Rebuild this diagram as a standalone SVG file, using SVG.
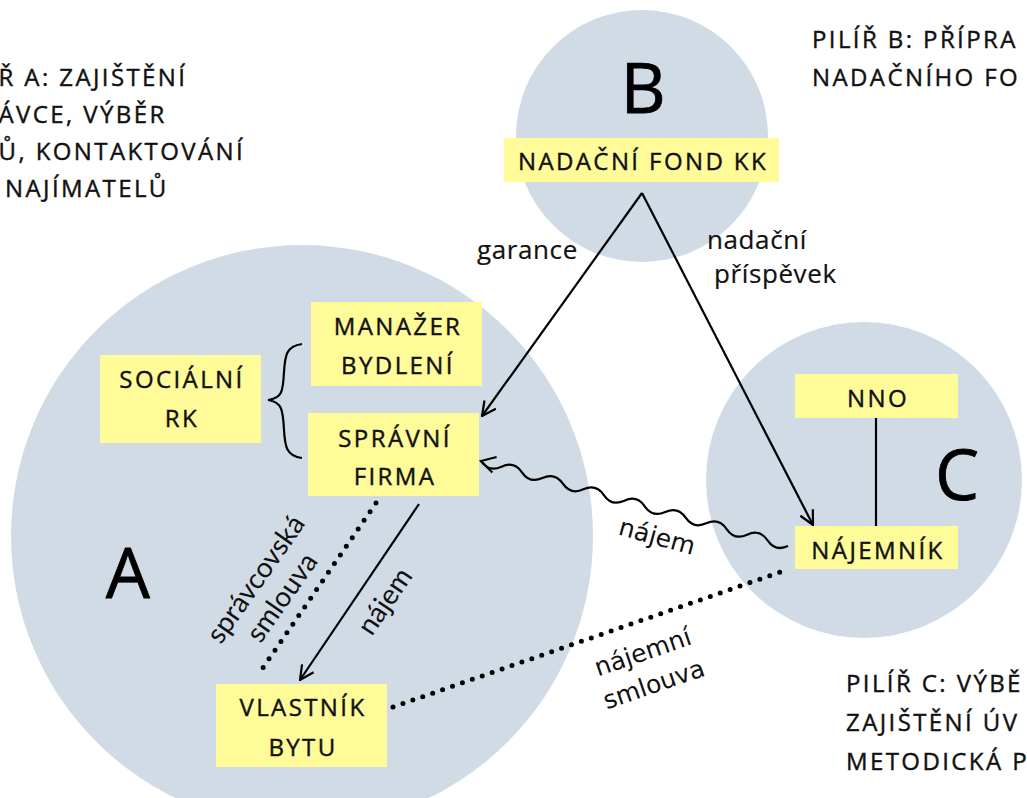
<svg xmlns="http://www.w3.org/2000/svg" width="1027" height="798" viewBox="0 0 1027 798">
<style>
.circ{fill:#D1DBE6}
.box{fill:#FFFB99}
.cap{font-family:"Open Sans","Liberation Sans",sans-serif;font-size:24px;letter-spacing:2.4px;fill:#111;stroke:#111;stroke-width:0.4px}
.mid{text-anchor:middle}
.big{font-family:"Open Sans","Liberation Sans",sans-serif;font-size:70px;fill:#000;stroke:#000;stroke-width:0.8px;text-anchor:middle}
.lbl{font-family:"Open Sans","Liberation Sans",sans-serif;font-size:26px;fill:#111;letter-spacing:0.6px;stroke:#111;stroke-width:0.2px}
.lato{font-family:Lato,"Open Sans",sans-serif;font-size:28px;fill:#111;text-anchor:middle}
.dj{font-family:"DejaVu Sans",sans-serif;font-size:25px;fill:#111;text-anchor:middle}
.ln{fill:none;stroke:#000;stroke-width:2.2}
.dot{fill:none;stroke:#000;stroke-width:5;stroke-linecap:round;stroke-dasharray:0 10.5}
</style>
<defs>
<marker id="arr" viewBox="0 0 16 16" refX="15" refY="8" markerWidth="16" markerHeight="16" markerUnits="userSpaceOnUse" orient="auto">
<path d="M1,1 L15,8 L1,15" fill="none" stroke="#000" stroke-width="2.2"/>
</marker>
</defs>
<rect width="1027" height="798" fill="#fff"/>

<g id="pillars">
<circle id="circleA" class="circ" cx="302" cy="536" r="291"/>
<circle id="circleB" class="circ" cx="642" cy="136" r="126"/>
<circle id="circleC" class="circ" cx="864" cy="480" r="158"/>
<text class="big" x="128" y="598">A</text>
<text class="big" x="643" y="113">B</text>
<text class="big" x="957" y="500">C</text>
</g>

<g id="pillar-texts" class="cap">
<text x="-1.5" y="86">Ř A: ZAJIŠTĚNÍ</text>
<text x="-1.5" y="123">ÁVCE, VÝBĚR</text>
<text x="-1.5" y="160">Ů, KONTAKTOVÁNÍ</text>
<text x="5" y="197">NAJÍMATELŮ</text>
<text x="812" y="48">PILÍŘ B: PŘÍPRA</text>
<text x="812" y="86">NADAČNÍHO FO</text>
<text x="846" y="692">PILÍŘ C: VÝBĚ</text>
<text x="846" y="731">ZAJIŠTĚNÍ ÚV</text>
<text x="846" y="770">METODICKÁ P</text>
</g>

<g id="connectors">
<line class="ln" x1="642" y1="193" x2="482" y2="416" marker-end="url(#arr)"/>
<line class="ln" x1="642" y1="193" x2="813" y2="525" marker-end="url(#arr)"/>
<line class="ln" x1="419" y1="504" x2="300" y2="680" marker-end="url(#arr)"/>
<line class="ln" x1="876" y1="418" x2="876" y2="526"/>
<g transform="translate(481,461) rotate(15.48)">
<path class="ln" d="M0,0 Q10.62,9 21.24,0 T42.48,0 T63.72,0 T84.96,0 T106.2,0 T127.44,0 T148.68,0 T169.92,0 T191.16,0 T212.4,0 T233.64,0 T254.88,0 T276.12,0 T297.36,0 T318.6,0"/>
<path class="ln" d="M14,-8 L0,0 L14,8"/>
</g>
<line class="dot" x1="376" y1="503" x2="258" y2="675"/>
<line class="dot" x1="393" y1="707" x2="789" y2="569"/>
<path class="ln" d="M302,344 C286,346 285,356 284,372 C283,392 282,398 268,400 C282,402 283,410 284,430 C285,446 286,456 302,458"/>
</g>

<g id="labels">
<text class="lbl" x="477" y="259">garance</text>
<text class="lbl" x="707" y="249">nadační</text>
<text class="lbl" x="714" y="283">příspěvek</text>
<text class="dj" transform="translate(657,537) rotate(15.5)" y="8">nájem</text>
<text class="lato" transform="translate(386,602) rotate(-55.7)" y="8">nájem</text>
<g transform="translate(270,589) rotate(-55)">
<text class="lato" y="-8">správcovská</text>
<text class="lato" y="24">smlouva</text>
</g>
<g transform="translate(648.5,668.7) rotate(-19)">
<text class="dj" y="-9">nájemní</text>
<text class="dj" y="25">smlouva</text>
</g>
</g>

<g id="node-nadacni-fond">
<rect class="box" x="504" y="138" width="275" height="44"/>
<text class="cap mid" x="643" y="170">NADAČNÍ FOND KK</text>
</g>
<g id="node-socialni-rk">
<rect class="box" x="100" y="355" width="161" height="88"/>
<text class="cap mid" x="182" y="388">SOCIÁLNÍ</text>
<text class="cap mid" x="182" y="427">RK</text>
</g>
<g id="node-manazer">
<rect class="box" x="311" y="302" width="171" height="84"/>
<text class="cap mid" x="398" y="335">MANAŽER</text>
<text class="cap mid" x="398" y="374">BYDLENÍ</text>
</g>
<g id="node-spravni-firma">
<rect class="box" x="308" y="413" width="171" height="83"/>
<text class="cap mid" x="395" y="447">SPRÁVNÍ</text>
<text class="cap mid" x="395" y="485">FIRMA</text>
</g>
<g id="node-vlastnik">
<rect class="box" x="216" y="684" width="171" height="83"/>
<text class="cap mid" x="303" y="716">VLASTNÍK</text>
<text class="cap mid" x="303" y="756">BYTU</text>
</g>
<g id="node-nno">
<rect class="box" x="795" y="374" width="163" height="44"/>
<text class="cap mid" x="878" y="407">NNO</text>
</g>
<g id="node-najemnik">
<rect class="box" x="795" y="526" width="163" height="43"/>
<text class="cap mid" x="878" y="559">NÁJEMNÍK</text>
</g>
</svg>
